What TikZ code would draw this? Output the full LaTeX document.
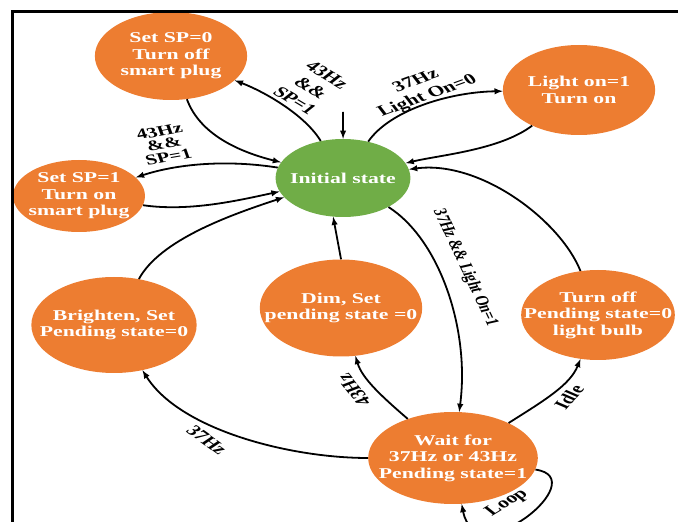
\documentclass[tikz,border=0pt]{standalone}
\usepackage{fontspec}
\setmainfont{Liberation Serif}
\usetikzlibrary{shapes.geometric}
\definecolor{stateorange}{RGB}{237,125,49}
\definecolor{stategreen}{RGB}{112,173,71}
\tikzset{
  state/.style={ellipse,fill=stateorange,draw=none,text=white,align=center,
    inner xsep=-30pt,inner ysep=-20pt,font=\bfseries\fontsize{15}{16.5}\selectfont},
  lbl/.style={align=center,inner sep=0pt,font=\bfseries\fontsize{15}{17}\selectfont},
  arr/.style={->,>=latex,line width=1.8pt},
}
\begin{document}
\begin{tikzpicture}[x=0.68966pt,y=-1pt,xscale=1.45,transform shape]
\useasboundingbox (0,0) rectangle (678,522);
% states
\node[state,fill=stategreen,minimum width=93pt,minimum height=78pt] (init) at (343,178) {Initial state};
\node[state,minimum width=105pt,minimum height=88pt] (offplug) at (171,56) {Set SP=0\\Turn off\\smart plug};
\node[state,minimum width=91pt,minimum height=72pt] (onplug) at (79,196) {Set SP=1\\Turn on\\smart plug};
\node[state,minimum width=105pt,minimum height=90pt] (lighton) at (579,90) {Light on=1\\Turn on};
\node[state,minimum width=114pt,minimum height=96pt] (bright) at (114,325) {Brighten, Set\\Pending state=0};
\node[state,minimum width=112pt,minimum height=97pt] (dim) at (341,308) {Dim, Set\\pending state =0};
\node[state,minimum width=106pt,minimum height=90pt] (lightoff) at (598,315) {Turn off\\Pending state=0\\light bulb};
\node[state,minimum width=117pt,minimum height=92pt] (wait) at (453,458) {Wait for\\37Hz or 43Hz\\Pending state=1};

% transitions
\coordinate (entry) at (343,112);
\draw[arr] (entry) -- (init);
\draw[arr] (offplug) .. controls (200,135) and (240,152) .. (init);
\draw[arr] (init) .. controls (305,115) and (265,92) .. (offplug);
\draw[arr] (init) .. controls (230,160) and (180,163) .. (onplug);
\draw[arr] (onplug) .. controls (190,212) and (240,200) .. (init);
\draw[arr] (bright) .. controls (160,240) and (230,215) .. (init);
\draw[arr] (init) .. controls (390,110) and (450,92) .. (lighton);
\draw[arr] (lighton) .. controls (500,150) and (440,155) .. (init);
\draw[arr] (lightoff) .. controls (560,220) and (480,160) .. (init);
\draw[arr] (init) .. controls (440,240) and (470,330) .. (wait);
\draw[arr] (dim.north) -- (init.260);
\draw[arr] (wait) .. controls (380,395) and (362,378) .. (dim);
\draw[arr] (wait) .. controls (290,458) and (180,430) .. (bright);
\draw[arr] (wait) .. controls (545,400) and (570,385) .. (lightoff);
\draw[arr] (wait) .. controls (595,478) and (475,575) .. (wait);

% labels
\node[lbl,rotate=-41] (c43off) at (311,88) {43Hz\\\&\&\\SP=1};
\node[lbl,rotate=14,font=\bfseries\fontsize{14.5}{13}\selectfont] (c43on) at (164,144) {43Hz\\\&\&\\SP=1};
\node[lbl,rotate=28] (c37on) at (422,89) {37Hz\\Light On=0};
\node[lbl,rotate=-72,font=\bfseries\fontsize{13}{15}\selectfont] (c37wait) at (465,268) {37Hz \&\& Light On=1};
\node[lbl,rotate=119] (c43dim) at (354,390) {43Hz};
\node[lbl,rotate=-46] (c37bright) at (207,440) {37Hz};
\node[lbl,rotate=58] (cidle) at (569,397) {Idle};
\node[lbl,rotate=41] (cloop) at (507,503) {Loop};

% frame
\draw[line width=3pt] (12,522) -- (12,12) -- (678,12);
\end{tikzpicture}
\end{document}
